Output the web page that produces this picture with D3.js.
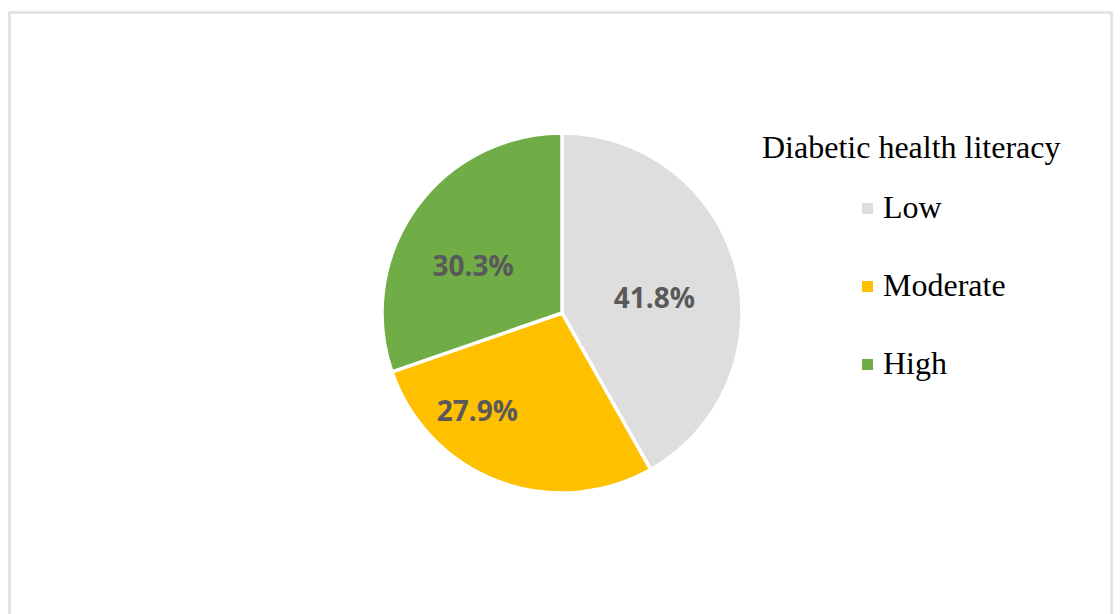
<!DOCTYPE html>
<html><head><meta charset="utf-8">
<script src="https://cdn.jsdelivr.net/npm/d3@7"></script>
<style>html,body{margin:0;padding:0;background:#fff;}</style>
</head><body>
<svg id="c" width="1120" height="614"></svg>
<script>
const categories = ["Low", "Moderate", "High"];
const values = [41.8, 27.9, 30.3];
const labels = ["41.8%", "27.9%", "30.3%"];
const colors = ["#DEDEDE", "#FFC000", "#70AD47"];
const legendTitle = "Diabetic health literacy";

const svg = d3.select("#c");
svg.append("rect").attr("x", 9.5).attr("y", 12.5).attr("width", 1102).attr("height", 620)
  .attr("fill", "#fff").attr("stroke", "#e0e0e0").attr("stroke-width", 2.5);

const cx = 562, cy = 313, r = 180;
const pie = d3.pie().sort(null).value(d => d.v);
const data = categories.map((c, i) => ({c, v: values[i], l: labels[i], col: colors[i]}));
const arcs = pie(data);
const arc = d3.arc().innerRadius(0).outerRadius(r);
const g = svg.append("g").attr("transform", `translate(${cx},${cy})`);
g.selectAll("path").data(arcs).enter().append("path")
  .attr("d", arc).attr("fill", d => d.data.col)
  .attr("stroke", "#fff").attr("stroke-width", 3.5).attr("stroke-linejoin", "round");

// label placement (Excel best-fit style): radius factor and angle shift per slice
const labelRad = [0.52, 0.72, 0.56];
const labelShift = [0.10, 0.35, -0.13];
g.selectAll("text").data(arcs).enter().append("text")
  .attr("transform", (d, i) => {
    const a = (d.startAngle + d.endAngle) / 2 + labelShift[i];
    const rr = r * labelRad[i];
    return `translate(${rr * Math.sin(a)},${-rr * Math.cos(a)})`;
  })
  .attr("text-anchor", "middle").attr("dy", "0.36em")
  .attr("font-family", "'Open Sans', sans-serif").attr("font-weight", "bold")
  .attr("font-size", 28).attr("fill", "#595959")
  .text(d => d.data.l);

svg.append("text").attr("x", 762).attr("y", 158)
  .attr("font-family", "'Liberation Serif', 'Times New Roman', serif")
  .attr("font-size", 32).attr("fill", "#000").text(legendTitle);

const lg = svg.append("g");
const ly = d3.scalePoint().domain(categories).range([218, 374]);
categories.forEach((c, i) => {
  lg.append("rect").attr("x", 862).attr("y", ly(c) - 15).attr("width", 11).attr("height", 11).attr("fill", colors[i]);
  lg.append("text").attr("x", 883).attr("y", ly(c))
    .attr("font-family", "'Liberation Serif', 'Times New Roman', serif")
    .attr("font-size", 32).attr("fill", "#000").text(c);
});
</script>
</body></html>
